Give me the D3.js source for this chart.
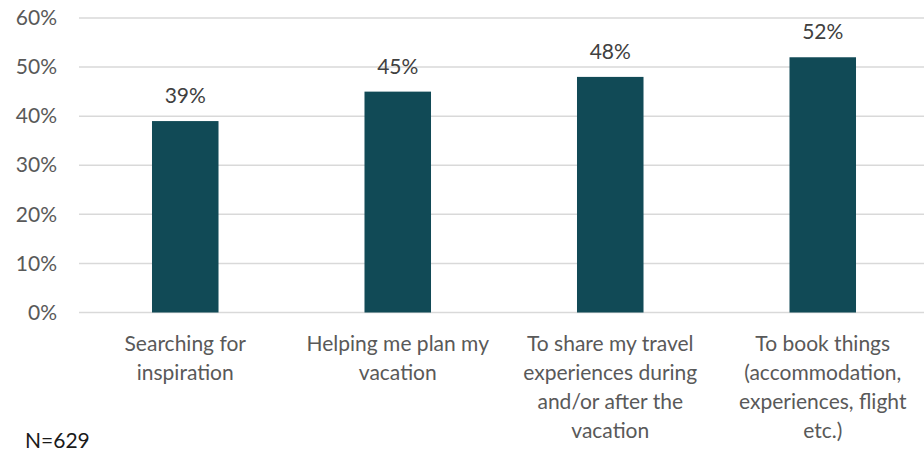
<!DOCTYPE html>
<html>
<head>
<meta charset="utf-8">
<script src="https://cdn.jsdelivr.net/npm/d3@7"></script>
<style>
  html, body { margin: 0; padding: 0; background: #fff; }
  svg { display: block; }
  text { font-family: Lato, "Open Sans", sans-serif; }
</style>
</head>
<body>
<svg id="chart" width="924" height="453"></svg>
<script>
// Survey answers: what people use the service for
const categories = [
  ["Searching for", "inspiration"],
  ["Helping me plan my", "vacation"],
  ["To share my travel", "experiences during", "and/or after the", "vacation"],
  ["To book things", "(accommodation,", "experiences, flight", "etc.)"]
];
const values = [39, 45, 48, 52];
const yTicks = [0, 10, 20, 30, 40, 50, 60];
const note = "N=629";

const svg = d3.select("#chart");
const W = 924;
const plotLeft = 79, plotRight = 929, plotTop = 18, plotBottom = 312.5;
const fontSize = "21px";

const x = d3.scaleBand()
  .domain(d3.range(categories.length))
  .range([plotLeft, plotRight])
  .paddingInner(0.687)
  .paddingOuter(0.3435);

const y = d3.scaleLinear().domain([0, 60]).range([plotBottom, plotTop]);

const textColor = "#595959";

// horizontal gridlines
svg.append("g")
  .selectAll("line")
  .data(yTicks)
  .join("line")
  .attr("x1", plotLeft)
  .attr("x2", W)
  .attr("y1", d => y(d))
  .attr("y2", d => y(d))
  .attr("stroke", "#d9d9d9")
  .attr("stroke-width", 1.5);

// y axis labels
const yAxis = d3.axisLeft(y).tickValues(yTicks).tickFormat(d => d + "%").tickSize(0).tickPadding(0);
const yg = svg.append("g").attr("transform", `translate(${57},0)`).call(yAxis);
yg.select(".domain").remove();
yg.selectAll("text")
  .attr("fill", textColor)
  .style("font-size", fontSize)
  .style("font-family", "Lato, 'Open Sans', sans-serif");

// bars
svg.append("g")
  .selectAll("rect")
  .data(values)
  .join("rect")
  .attr("x", (d, i) => x(i))
  .attr("width", x.bandwidth())
  .attr("y", d => y(d))
  .attr("height", d => y(0) - y(d))
  .attr("fill", "#114a56");

// value labels
svg.append("g")
  .selectAll("text")
  .data(values)
  .join("text")
  .attr("x", (d, i) => x(i) + x.bandwidth() / 2)
  .attr("y", d => y(d) - 18)
  .attr("text-anchor", "middle")
  .attr("fill", "#404040")
  .style("font-size", fontSize)
  .text(d => d + "%");

// category labels
const lineH = 29;
const cat = svg.append("g")
  .selectAll("text")
  .data(categories)
  .join("text")
  .attr("x", (d, i) => x(i) + x.bandwidth() / 2)
  .attr("y", 351)
  .attr("text-anchor", "middle")
  .attr("fill", textColor)
  .style("font-size", fontSize);
cat.selectAll("tspan")
  .data(d => d)
  .join("tspan")
  .attr("x", function () { return d3.select(this.parentNode).attr("x"); })
  .attr("dy", (d, j) => j === 0 ? 0 : lineH)
  .text(d => d);

// sample size note
svg.append("text")
  .attr("x", 25)
  .attr("y", 448)
  .attr("fill", "#1a1a1a")
  .style("font-size", fontSize)
  .text(note);
</script>
</body>
</html>
